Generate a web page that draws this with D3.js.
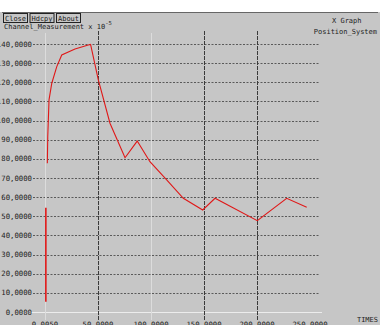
<!DOCTYPE html>
<html>
<head>
<meta charset="utf-8">
<script src="https://cdn.jsdelivr.net/npm/d3@7"></script>
<style>
  body { margin: 0; background: #fff; }
  svg { display: block; }
  text { font-family: "DejaVu Sans Mono", monospace; fill: #222; }
</style>
</head>
<body>
<script>
// values
const yTicks = [0, 10, 20, 30, 40, 50, 60, 70, 80, 90, 100, 110, 120, 130, 140];
const xTicks = [0, 50, 100, 150, 200, 250];
const xTickLabels = ["0,0050", "50,0000", "100,0000", "150,0000", "200,0000", "250,0000"];
const darkGrid = [50, 150, 200];
const lightGrid = [0, 100];

// first data set: the short drop at the start
const startTimes = [0.8, 0.8];
const startValues = [5.4, 54.5];

// second data set
const times = [2.2, 2.6, 3.8, 6.4, 11.1, 15.8, 28.3, 40.8, 43, 50.3, 61.3, 75.5, 87, 99,
  114.8, 130.5, 148.8, 160.4, 200.3, 228, 246.9];
const values = [77.7, 91.6, 110.8, 119.5, 128.2, 134.3, 137.4, 139.5, 139.8, 121.2, 98.6, 80.6,
  89.3, 78.5, 69, 59.4, 53.3, 59.4, 47.7, 59.4, 54.7];

const buttons = ["Close", "Hdcpy", "About"];

const width = 380;
const height = 325;

const svg = d3.select("body").append("svg")
  .attr("width", width)
  .attr("height", height);

svg.append("rect")
  .attr("x", 0).attr("y", 12)
  .attr("width", width).attr("height", height - 12)
  .attr("fill", "#c6c6c6");
svg.append("line")
  .attr("x1", 2).attr("x2", 378).attr("y1", 12.5).attr("y2", 12.5)
  .attr("stroke", "#666");

const x = d3.scaleLinear().domain([0, 250]).range([45, 310]);
const y = d3.scaleLinear().domain([0, 140]).range([312, 44]);

// horizontal grid
svg.append("g").selectAll("line")
  .data(yTicks.filter((d) => d > 0))
  .join("line")
  .attr("x1", 33).attr("x2", 320)
  .attr("y1", (d) => Math.round(y(d)) + 0.5)
  .attr("y2", (d) => Math.round(y(d)) + 0.5)
  .attr("stroke", "#5a5a5a")
  .attr("stroke-dasharray", "2,1.5");

svg.append("line")
  .attr("x1", 22).attr("x2", 322)
  .attr("y1", Math.round(y(0)) + 0.5).attr("y2", Math.round(y(0)) + 0.5)
  .attr("stroke", "#ececec");

// vertical grid
svg.append("g").selectAll("line")
  .data(lightGrid)
  .join("line")
  .attr("x1", (d) => Math.round(x(d)) + 0.5)
  .attr("x2", (d) => Math.round(x(d)) + 0.5)
  .attr("y1", 33).attr("y2", 320)
  .attr("stroke", "#dcdcdc");

svg.append("g").selectAll("line")
  .data(darkGrid)
  .join("line")
  .attr("x1", (d) => Math.round(x(d)) + 0.5)
  .attr("x2", (d) => Math.round(x(d)) + 0.5)
  .attr("y1", 31).attr("y2", 320)
  .attr("stroke", "#3a3a3a")
  .attr("stroke-dasharray", "4,1");

// tick labels
svg.append("g").selectAll("text")
  .data(yTicks)
  .join("text")
  .attr("x", 32)
  .attr("y", (d) => y(d) + 2.5)
  .attr("text-anchor", "end")
  .attr("font-size", 7.3)
  .text((d) => `${d},0000`);

svg.append("g").selectAll("text")
  .data(xTicks)
  .join("text")
  .attr("x", (d) => x(d))
  .attr("y", 327)
  .attr("text-anchor", "middle")
  .attr("font-size", 7.3)
  .text((d, i) => xTickLabels[i]);

// lines
const line = d3.line()
  .x((d) => x(d[0]))
  .y((d) => y(d[1]));

svg.append("path")
  .datum(d3.zip(startTimes, startValues))
  .attr("d", line)
  .attr("fill", "none")
  .attr("stroke", "#e01818")
  .attr("stroke-width", 1.6);

svg.append("path")
  .datum(d3.zip(times, values))
  .attr("d", line)
  .attr("fill", "none")
  .attr("stroke", "#e01818")
  .attr("stroke-width", 1.1);

// buttons and labels
const btn = svg.append("g").selectAll("g")
  .data(buttons)
  .join("g")
  .attr("transform", (d, i) => `translate(${3 + i * 26.5}, 13)`);
btn.append("rect")
  .attr("x", 0.5).attr("y", 0.5)
  .attr("width", 24).attr("height", 9)
  .attr("fill", "#c6c6c6")
  .attr("stroke", "#222");
btn.append("text")
  .attr("x", 12.5).attr("y", 7.5)
  .attr("text-anchor", "middle")
  .attr("font-size", 7)
  .text((d) => d);

const unit = svg.append("text")
  .attr("x", 4).attr("y", 28.5)
  .attr("font-size", 7);
unit.append("tspan").text("Channel_Measurement x 10");
unit.append("tspan").attr("dy", -4).attr("font-size", 5.5).text("-5");

svg.append("text")
  .attr("x", 332).attr("y", 22.5)
  .attr("font-size", 7)
  .text("X Graph");

svg.append("text")
  .attr("x", 377).attr("y", 34)
  .attr("text-anchor", "end")
  .attr("font-size", 7)
  .text("Position_System");

svg.append("text")
  .attr("x", 378).attr("y", 322)
  .attr("text-anchor", "end")
  .attr("font-size", 7)
  .text("TIMES");
</script>
</body>
</html>
